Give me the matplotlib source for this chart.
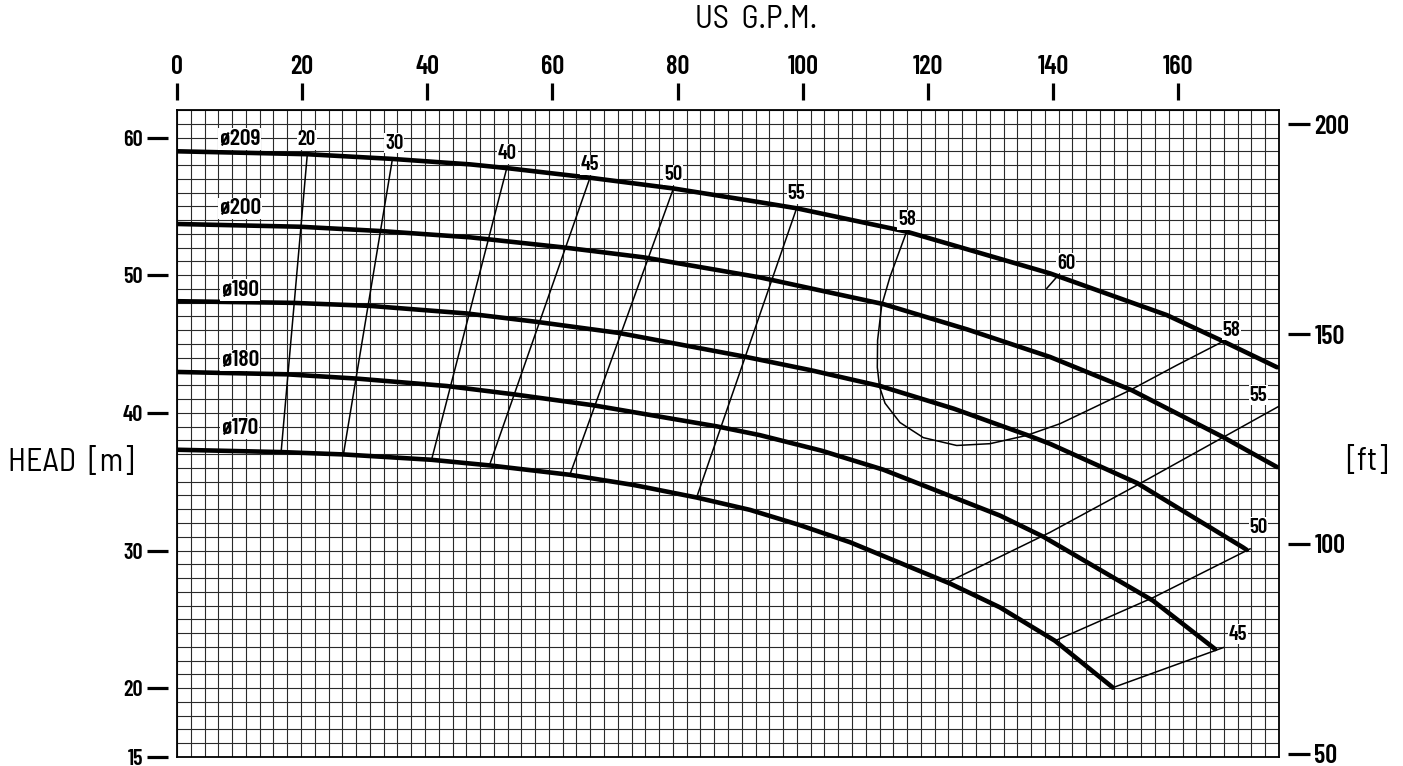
import numpy as np
import matplotlib
matplotlib.use('Agg')
import matplotlib.pyplot as plt
from matplotlib import font_manager as fm

# narrow CAD-like lettering: use a condensed face if installed
installed = set(f.name for f in fm.fontManager.ttflist)


def pick(names):
    for n in names:
        if n in installed:
            return n
    return 'DejaVu Sans'


NUM_FONT = pick(['Barlow Condensed', 'Fira Sans Extra Condensed', 'Archivo Narrow'])
TXT_FONT = pick(['Barlow Semi Condensed', 'Barlow Condensed', 'Archivo Narrow'])
plt.rcParams['font.family'] = [NUM_FONT, 'DejaVu Sans']
plt.rcParams['font.weight'] = 'semibold'

# flow in m3/h (the grid unit), head in m
q_209 = [0, 4.71, 7.79, 10.64, 11.97, 14.99, 18.02, 21.16, 22.49, 26.49, 31.69, 35.93, 37.97, 39.93]
h_209 = [59.0, 58.79, 58.45, 58.05, 57.78, 57.08, 56.3, 55.3, 54.86, 53.16, 50.13, 47.1, 45.2, 43.31]

q_200 = [0, 4.46, 7.37, 10.64, 14.02, 16.93, 21.16, 25.64, 28.7, 31.69, 34.66, 37.97, 39.93]
h_200 = [53.72, 53.52, 53.21, 52.75, 52.02, 51.30, 49.84, 47.90, 46.05, 44.06, 41.64, 38.24, 36.06]

q_190 = [0, 4.22, 7.01, 10.52, 13.06, 16.02, 20.56, 23.0, 25.52, 28.2, 30.84, 31.69, 34.85, 38.69, 38.83]
h_190 = [48.11, 47.99, 47.77, 47.22, 46.61, 45.81, 44.1, 43.1, 41.95, 40.3, 38.4, 37.75, 34.9, 30.23, 30.04]

q_180 = [0, 3.98, 6.52, 9.79, 12.21, 15.11, 19.59, 21.16, 23.4, 25.64, 29.87, 31.44, 35.43, 37.68]
h_180 = [42.97, 42.80, 42.49, 41.95, 41.35, 40.55, 39.02, 38.38, 37.25, 35.87, 32.54, 31.01, 26.35, 22.84]

q_170 = [0, 3.80, 6.04, 9.24, 11.36, 14.26, 16.6, 18.86, 20.80, 22.6, 24.43, 28.06, 29.87, 31.87, 33.97]
h_170 = [37.32, 37.15, 36.98, 36.59, 36.18, 35.50, 34.75, 33.85, 32.95, 31.85, 30.6, 27.6, 25.87, 23.44, 20.04]

curves = [(q_209, h_209, 'ø209', 59.89), (q_200, h_200, 'ø200', 54.86),
          (q_190, h_190, 'ø190', 48.92), (q_180, h_180, 'ø180', 43.82),
          (q_170, h_170, 'ø170', 38.91)]

# efficiency lines (%)
eff_20 = ([4.73, 3.78], [58.79, 37.17])
eff_30 = ([7.82, 6.04], [58.45, 36.98])
eff_40 = ([11.97, 9.24], [57.78, 36.59])
eff_45 = ([14.99, 11.34], [57.08, 36.18])
eff_50 = ([18.02, 14.26], [56.3, 35.50])
eff_55 = ([22.49, 18.86], [54.86, 33.85])
eff_58 = ([26.46, 25.88, 25.58, 25.43, 25.42, 25.5, 25.7, 26.24, 27.09, 28.30, 29.51, 30.84, 32.05, 34.59, 36.29, 37.98],
          [53.04, 49.88, 47.82, 45.28, 43.3, 41.9, 40.7, 39.3, 38.2, 37.63, 37.76, 38.36, 39.21, 41.64, 43.46, 45.2])
eff_60 = ([31.57, 31.99], [49.04, 50.0])
eff_55b = ([27.98, 31.69, 34.83, 39.99], [27.7, 31.32, 34.73, 40.47])
eff_50b = ([31.87, 35.44, 38.95], [23.44, 26.59, 30.12])
eff_45b = ([33.97, 37.98], [20.04, 22.95])
eff_lines = [eff_20, eff_30, eff_40, eff_45, eff_50, eff_55, eff_58, eff_60, eff_55b, eff_50b, eff_45b]

eff_labels = ['20', '30', '40', '45', '50', '55', '58', '60', '58', '55', '50', '45']
eff_label_q = [4.71, 7.88, 12.00, 14.99, 18.01, 22.47, 26.49, 32.27, 38.28, 39.25, 39.25, 38.52]
eff_label_h = [59.83, 59.59, 58.81, 58.01, 57.29, 55.90, 54.01, 50.86, 46.0, 41.27, 31.69, 23.93]

gpm_ticks = [0, 20, 40, 60, 80, 100, 120, 140, 160]
m_ticks = [15, 20, 30, 40, 50, 60]
ft_ticks = [50, 100, 150, 200]

GPM_PER_M3H = 4.4029
FT_PER_M = 3.28084

fig = plt.figure(figsize=(14.03, 7.66), dpi=100)
ax = fig.add_axes([177 / 1403, 9 / 766, 1102 / 1403, 647 / 766])
ax.set_xlim(0, 40)
ax.set_ylim(15, 62)
ax.set_xticks(np.arange(0, 40.01, 0.5))
ax.set_yticks(np.arange(15, 62.01, 1))
ax.tick_params(length=0, labelbottom=False, labelleft=False)
ax.grid(True, color='#2a2a2a', linewidth=0.8)
ax.set_axisbelow(True)
for s in ax.spines.values():
    s.set_linewidth(1.3)

for q, h, name, ly in curves:
    ax.plot(q, h, color='black', linewidth=3.3, solid_capstyle='round', solid_joinstyle='round', zorder=3)
    ax.text(2.28, ly, name, ha='center', va='center', fontsize=17,
            bbox=dict(facecolor='white', edgecolor='none', pad=0.5), zorder=4)

for q, h in eff_lines:
    ax.plot(q, h, color='black', linewidth=1.1, solid_joinstyle='round', zorder=3)

for lab, q, h in zip(eff_labels, eff_label_q, eff_label_h):
    ax.text(q, h, lab, ha='center', va='center', fontsize=15,
            bbox=dict(facecolor='white', edgecolor='none', pad=0.5), zorder=4)

# top GPM scale
top = ax.secondary_xaxis(1.0155, functions=(lambda x: x * GPM_PER_M3H, lambda x: x / GPM_PER_M3H))
top.set_xticks(gpm_ticks)
top.spines[:].set_visible(False)
top.tick_params(direction='out', length=12, width=2.3, pad=3, labelsize=19)

# left m scale
left = ax.secondary_yaxis(-0.0082, functions=(lambda y: y, lambda y: y))
left.set_yticks(m_ticks)
left.spines[:].set_visible(False)
left.tick_params(direction='out', length=15, width=2.3, pad=3, labelsize=16)

# right ft scale
right = ax.secondary_yaxis(1.0082, functions=(lambda y: y * FT_PER_M, lambda y: y / FT_PER_M))
right.set_yticks(ft_ticks)
right.spines[:].set_visible(False)
right.tick_params(direction='out', length=16, width=2.3, pad=3, labelsize=19)

fig.text(756 / 1403, 1 - 20 / 766, 'US  G.P.M.', ha='center', va='center', fontsize=23,
         family=TXT_FONT, weight='normal')
fig.text(8 / 1403, 1 - 463 / 766, 'HEAD  [m]', ha='left', va='center', fontsize=23,
         family=TXT_FONT, weight='normal')
fig.text(1367 / 1403, 1 - 462 / 766, '[ft]', ha='center', va='center', fontsize=23,
         family=TXT_FONT, weight='normal')

fig.savefig('out.png', dpi=100)
